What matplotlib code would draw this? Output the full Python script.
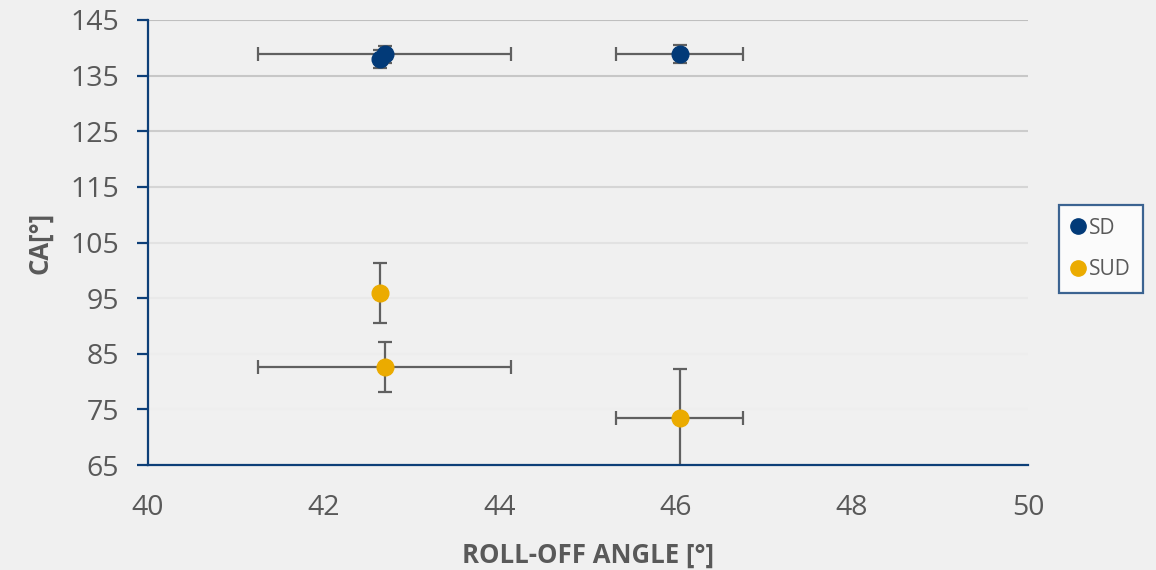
import matplotlib
matplotlib.use("Agg")
import matplotlib.pyplot as plt
from matplotlib.lines import Line2D

# Data: roll-off angle (x) vs contact angle (y) with error bars
series_names = ["SD", "SUD"]

sd_x = [42.64, 42.69, 46.04]
sd_y = [138.0, 138.8, 138.9]
sd_xerr = [0.0, 1.44, 0.72]
sd_yerr = [1.6, 1.5, 1.65]

sud_x = [42.64, 42.69, 46.04]
sud_y = [96.0, 82.6, 73.5]
sud_xerr = [0.0, 1.44, 0.72]
sud_yerr = [5.4, 4.5, 8.7]

x_ticks = [40, 42, 44, 46, 48, 50]
y_ticks = [65, 75, 85, 95, 105, 115, 125, 135, 145]

BG = "#f0f0f0"
AXIS_BLUE = "#0d3f78"
TEXT = "#595959"
ERR = "#606060"
SD_COLOR = "#023a78"
SUD_COLOR = "#ebab00"
FONT = "Open Sans"

plt.rcParams["font.family"] = [FONT, "DejaVu Sans"]

fig = plt.figure(figsize=(11.56, 5.70), dpi=100, facecolor=BG)
ax = fig.add_axes([148 / 1156, 105 / 570, 880 / 1156, 445 / 570])
ax.set_facecolor(BG)

ax.set_xlim(40, 50)
ax.set_ylim(65, 145)
ax.set_xticks(x_ticks)
ax.set_yticks(y_ticks)

# Horizontal gridlines that fade toward the bottom of the plot
grid_shades = [None, 0.935, 0.93, 0.915, 0.885, 0.835, 0.80, 0.78, 0.75]
for yv, shade in zip(y_ticks, grid_shades):
    if shade is None:
        continue
    ax.axhline(yv, color=str(shade), lw=1.5, zorder=0.5)

for side in ["top", "right"]:
    ax.spines[side].set_visible(False)
for side in ["left", "bottom"]:
    ax.spines[side].set_color(AXIS_BLUE)
    ax.spines[side].set_linewidth(1.6)
    ax.spines[side].set_zorder(3)

ax.tick_params(axis="y", direction="out", length=8, width=1.6, color=AXIS_BLUE,
               labelsize=20.5, labelcolor=TEXT, pad=13)
ax.tick_params(axis="x", length=0, labelsize=20.5, labelcolor=TEXT, pad=21)

err_kw = dict(fmt="none", ecolor=ERR, elinewidth=1.6, capsize=5, capthick=1.6, zorder=2)
ax.errorbar(sd_x, sd_y, xerr=sd_xerr, yerr=sd_yerr, **err_kw)
ax.errorbar(sud_x, sud_y, xerr=sud_xerr, yerr=sud_yerr, **err_kw)
ax.plot(sd_x, sd_y, "o", color=SD_COLOR, ms=12, zorder=4, label=series_names[0])
ax.plot(sud_x, sud_y, "o", color=SUD_COLOR, ms=12, zorder=4, label=series_names[1])

ax.set_xlabel("ROLL-OFF ANGLE [°]", fontsize=18.5, fontweight="bold", color=TEXT, labelpad=14)
ax.set_ylabel("CA[°]", fontsize=18.5, fontweight="bold", color=TEXT, labelpad=12)

handles = [Line2D([], [], marker="o", ls="none", color=SD_COLOR, ms=11),
           Line2D([], [], marker="o", ls="none", color=SUD_COLOR, ms=11)]
leg = fig.legend(handles, series_names, loc="center left",
                 bbox_to_anchor=(1059 / 1156, 321 / 570), frameon=True,
                 fancybox=False, facecolor="white", edgecolor=AXIS_BLUE,
                 fontsize=15, labelcolor=TEXT, handlelength=0.6,
                 handletextpad=0.25, labelspacing=1.0, borderpad=0.6,
                 borderaxespad=0)
leg.get_frame().set_linewidth(1.6)

fig.savefig("out.png", dpi=100, facecolor=BG)
